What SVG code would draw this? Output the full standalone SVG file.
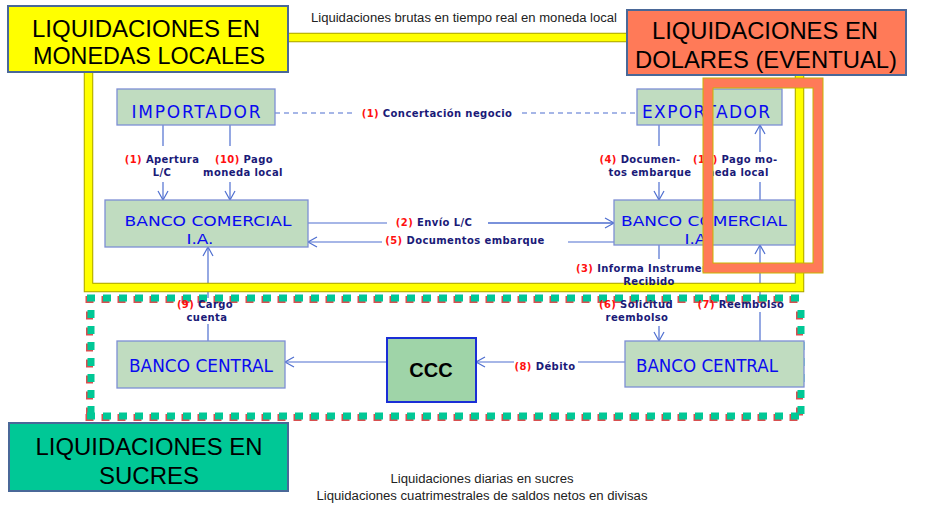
<svg xmlns="http://www.w3.org/2000/svg" width="927" height="508" viewBox="0 0 927 508">
<defs>
<style>
.node{fill:#c0dcc0;stroke:#7d8fd4;stroke-width:1.3}
.nt{font-family:"DejaVu Sans",Verdana,sans-serif;font-size:17px;fill:#0a0af0;text-anchor:middle}
.nt2{font-family:"DejaVu Sans",Verdana,sans-serif;font-size:14.5px;fill:#0a0af0;text-anchor:middle}
.con{fill:none;stroke:#4f6fd0;stroke-width:1.2}
.dash{stroke-dasharray:5 4}
.lab{font-family:"DejaVu Sans",Verdana,sans-serif;font-size:10px;font-weight:bold;fill:#1a1a78;letter-spacing:0.4px}
.num{fill:#ff1010}
.title{font-family:"Liberation Sans",Arial,sans-serif;font-size:24px;fill:#000;text-anchor:middle}
.small{font-family:"Liberation Sans",Arial,sans-serif;font-size:12.5px;fill:#222;text-anchor:middle}
.sq{fill:none;stroke-width:7;stroke-dasharray:8 8}
</style>
<marker id="arr" markerUnits="userSpaceOnUse" markerWidth="14" markerHeight="14" viewBox="-12 -7 14 14" refX="0" refY="0" orient="auto">
<path d="M-9,-5 L0,0 L-9,5" fill="none" stroke="#4f6fd0" stroke-width="1.2"/>
</marker>
</defs>
<rect width="927" height="508" fill="#ffffff"/>

<g id="connectors">
<path class="con dash" d="M275,113 H352 M522,113 H637"/>
<path class="con" d="M163,125 V146 M230,125 V146 M659,125 V146 M760,182 V200 M659,245 V259 M208,324 V341 M760,312 V341 M625,362 H578 M488,223 H614"/>
<path class="con" d="M163,182 V200" marker-end="url(#arr)"/>
<path class="con" d="M230,182 V200" marker-end="url(#arr)"/>
<path class="con" d="M659,182 V200" marker-end="url(#arr)"/>
<path class="con" d="M760,152 V125" marker-end="url(#arr)"/>
<path class="con" d="M308,223 H387 M488,223 H614" marker-end="url(#arr)"/>
<path class="con" d="M614,242 H568 M382,242 H308" marker-end="url(#arr)"/>
<path class="con" d="M208,298 V247" marker-end="url(#arr)"/>
<path class="con" d="M659,326 V341" marker-end="url(#arr)"/>
<path class="con" d="M760,300 V245" marker-end="url(#arr)"/>
<path class="con" d="M514,362 H476" marker-end="url(#arr)"/>
<path class="con" d="M387,362 H285" marker-end="url(#arr)"/>
</g>

<g id="frame-local">
<rect x="88.5" y="37.5" width="711" height="250" fill="none" stroke="#a8a000" stroke-width="9.5"/>
<rect x="88.5" y="37.5" width="711" height="250" fill="none" stroke="#ffff00" stroke-width="7.5"/>
</g>

<g id="frame-sucres">
<g stroke="#d84f4f" transform="translate(-1.5,1.5)">
<line class="sq" x1="87" y1="298" x2="806" y2="298"/>
<line class="sq" x1="87" y1="416" x2="806" y2="416"/>
<line class="sq" x1="91" y1="310" x2="91" y2="416"/>
<line class="sq" x1="801" y1="310" x2="801" y2="416"/>
</g>
<g stroke="#00c896">
<line class="sq" x1="87" y1="298" x2="806" y2="298"/>
<line class="sq" x1="87" y1="416" x2="806" y2="416"/>
<line class="sq" x1="91" y1="310" x2="91" y2="416"/>
<line class="sq" x1="801" y1="310" x2="801" y2="416"/>
</g>
</g>

<g id="labels">
<text class="lab" x="437" y="117" text-anchor="middle"><tspan class="num">(1)</tspan> Concertación negocio</text>
<text class="lab" x="162" y="163" text-anchor="middle"><tspan class="num">(1)</tspan> Apertura</text>
<text class="lab" x="162" y="176" text-anchor="middle">L/C</text>
<text class="lab" x="244" y="163" text-anchor="middle"><tspan class="num">(10)</tspan> Pago</text>
<text class="lab" x="243" y="176" text-anchor="middle">moneda local</text>
<text class="lab" x="640" y="163" text-anchor="middle"><tspan class="num">(4)</tspan> Documen-</text>
<text class="lab" x="650" y="176" text-anchor="middle">tos embarque</text>
<text class="lab" x="693" y="163"><tspan class="num">(11)</tspan> Pago mo-</text>
<text class="lab" x="738" y="176" text-anchor="middle">neda local</text>
<text class="lab" x="434" y="226" text-anchor="middle"><tspan class="num">(2)</tspan> Envío L/C</text>
<text class="lab" x="465" y="244" text-anchor="middle"><tspan class="num">(5)</tspan> Documentos embarque</text>
<text class="lab" x="649" y="272" text-anchor="middle"><tspan class="num">(3)</tspan> Informa Instrumento</text>
<text class="lab" x="649" y="285" text-anchor="middle">Recibido</text>
<text class="lab" x="636" y="308" text-anchor="middle"><tspan class="num">(6)</tspan> Solicitud</text>
<text class="lab" x="637" y="321" text-anchor="middle">reembolso</text>
<text class="lab" x="741" y="308" text-anchor="middle"><tspan class="num">(7)</tspan> Reembolso</text>
<text class="lab" x="545" y="370" text-anchor="middle"><tspan class="num">(8)</tspan> Débito</text>
<text class="lab" x="205" y="308" text-anchor="middle"><tspan class="num">(9)</tspan> Cargo</text>
<text class="lab" x="207" y="321" text-anchor="middle">cuenta</text>
</g>

<g id="importador">
<rect class="node" x="117" y="89" width="158" height="36"/>
<text class="nt" x="196" y="118" textLength="129" lengthAdjust="spacing">IMPORTADOR</text>
</g>
<g id="exportador">
<rect class="node" x="637" y="89" width="145" height="36"/>
<text class="nt" x="706" y="118" textLength="128" lengthAdjust="spacing">EXPORTADOR</text>
</g>
<g id="banco-comercial-ia-1">
<rect class="node" x="105" y="200" width="203" height="47"/>
<text class="nt2" x="208" y="226" textLength="167" lengthAdjust="spacingAndGlyphs">BANCO COMERCIAL</text>
<text class="nt2" x="200" y="244" textLength="27" lengthAdjust="spacingAndGlyphs">I.A.</text>
</g>
<g id="banco-comercial-ia-2">
<rect class="node" x="614" y="200" width="181" height="45"/>
<text class="nt2" x="704" y="226" textLength="166" lengthAdjust="spacingAndGlyphs">BANCO COMERCIAL</text>
<text class="nt2" x="698" y="243.5" textLength="27" lengthAdjust="spacingAndGlyphs">I.A.</text>
</g>
<g id="banco-central-1">
<rect class="node" x="117" y="341" width="168" height="47"/>
<text class="nt" x="201" y="372" textLength="144" lengthAdjust="spacingAndGlyphs">BANCO CENTRAL</text>
</g>
<g id="banco-central-2">
<rect class="node" x="625" y="341" width="179" height="46"/>
<text class="nt" x="707" y="372" textLength="142" lengthAdjust="spacingAndGlyphs">BANCO CENTRAL</text>
</g>
<g id="ccc">
<rect x="387" y="338" width="89" height="64" fill="#9fd4a8" stroke="#1a2ed6" stroke-width="2"/>
<text x="431" y="377" font-family="Liberation Sans, Arial, sans-serif" font-size="20" font-weight="bold" text-anchor="middle" fill="#000">CCC</text>
</g>

<g id="frame-dolares">
<rect x="708" y="83" width="110" height="185" fill="none" stroke="#c8b400" stroke-width="11"/>
<rect x="708" y="83" width="110" height="185" fill="none" stroke="#ff7a58" stroke-width="9"/>
</g>

<g id="titulo-locales">
<rect x="8" y="6" width="280" height="66" fill="#ffff00" stroke="#4a6898" stroke-width="2"/>
<text class="title" x="146" y="37" textLength="228" lengthAdjust="spacingAndGlyphs">LIQUIDACIONES EN</text>
<text class="title" x="149" y="64" textLength="232" lengthAdjust="spacingAndGlyphs">MONEDAS LOCALES</text>
</g>
<g id="titulo-dolares">
<rect x="627" y="10" width="279" height="65" fill="#ff7a58" stroke="#4a6898" stroke-width="2"/>
<text class="title" x="765" y="39" textLength="226" lengthAdjust="spacingAndGlyphs">LIQUIDACIONES EN</text>
<text class="title" x="766" y="68" textLength="262" lengthAdjust="spacingAndGlyphs">DOLARES (EVENTUAL)</text>
</g>
<g id="titulo-sucres">
<rect x="9" y="423" width="279" height="68" fill="#00c896" stroke="#4a6898" stroke-width="2"/>
<text class="title" x="149" y="455" textLength="227" lengthAdjust="spacingAndGlyphs">LIQUIDACIONES EN</text>
<text class="title" x="149" y="484">SUCRES</text>
</g>

<g id="notas">
<text class="small" x="464" y="22" textLength="306" lengthAdjust="spacingAndGlyphs">Liquidaciones brutas en tiempo real en moneda local</text>
<text class="small" x="482" y="483" textLength="183" lengthAdjust="spacingAndGlyphs">Liquidaciones diarias en sucres</text>
<text class="small" x="482" y="500" textLength="331" lengthAdjust="spacingAndGlyphs">Liquidaciones cuatrimestrales de saldos netos en divisas</text>
</g>
</svg>
